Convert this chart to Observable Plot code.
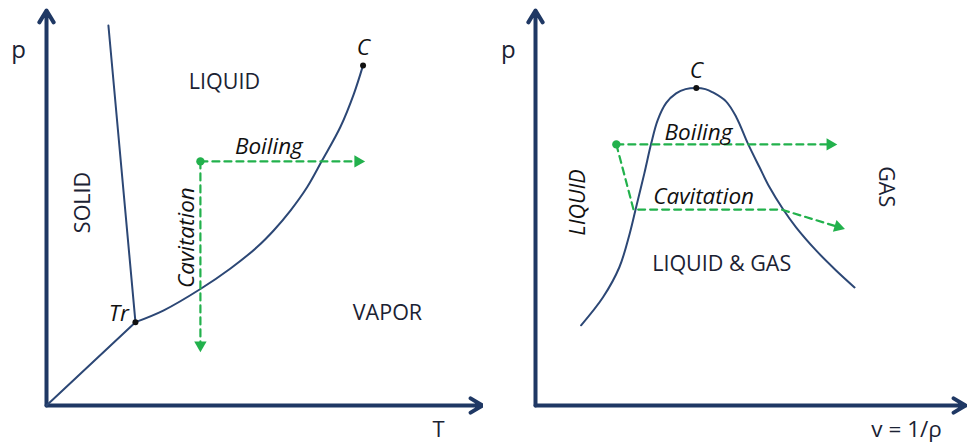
<!DOCTYPE html>
<html><head><meta charset="utf-8">
<script src="https://cdn.jsdelivr.net/npm/d3@7"></script>
<script src="https://cdn.jsdelivr.net/npm/@observablehq/plot@0.6"></script>
<style>
body{margin:0;background:#fff;}
#wrap{display:flex;width:967px;height:443px;overflow:hidden;}
#wrap svg{display:block;background:#fff;}
</style></head><body><div id="wrap"></div>
<script>
// ---------- Left panel: p–T phase diagram (arbitrary units 0–100) ----------
const ptAxes = [{x1:0,y1:0,x2:100,y2:0},{x1:0,y1:0,x2:0,y2:100}];
const sublimation = [{T:0,p:0},{T:20.4,p:21.1}];
const melting = [{T:20.4,p:21.1},{T:14.2,p:96.2}];
const vaporization = [
  {T:20.4,p:21.1},{T:26.9,p:24.1},{T:35.3,p:29.5},{T:42.2,p:34.7},{T:48.3,p:40.1},
  {T:52.1,p:44.3},{T:56.0,p:49.4},{T:59.8,p:55.3},{T:63.2,p:62.0},{T:67.4,p:70.5},
  {T:70.5,p:78.9},{T:72.6,p:86.1}
];
const ptPoints = [{T:20.4,p:21.1,label:"Tr"},{T:72.6,p:86.1,label:"C"}];
const ptStart = {T:35.3,p:61.8};
const ptBoilEnd = {T:72.7,p:61.8};
const ptCavEnd = {T:35.3,p:13.9};
const ptLabels = [
  {T:-6.4,p:89.9,text:"p",style:"normal",rotate:0,size:24,anchor:"middle"},
  {T:89.9,p:-6.1,text:"T",style:"normal",rotate:0,size:22,anchor:"middle"},
  {T:40.8,p:81.8,text:"LIQUID",style:"normal",rotate:0,size:21.5,anchor:"middle"},
  {T:8.3,p:51.4,text:"SOLID",style:"normal",rotate:-90,size:21.5,anchor:"middle"},
  {T:78.2,p:23.5,text:"VAPOR",style:"normal",rotate:0,size:21.5,anchor:"middle"},
  {T:51.0,p:65.6,text:"Boiling",style:"italic",rotate:0,size:22.5,anchor:"middle"},
  {T:32.1,p:42.5,text:"Cavitation",style:"italic",rotate:-90,size:22.5,anchor:"middle"},
  {T:18.9,p:23.3,text:"Tr",style:"italic",rotate:0,size:22.5,anchor:"end"},
  {T:72.7,p:90.6,text:"C",style:"italic",rotate:0,size:22.5,anchor:"middle"}
];

// ---------- Right panel: p–v diagram (arbitrary units 0–100) ----------
const pvAxes = [{x1:0,y1:0,x2:100,y2:0},{x1:0,y1:0,x2:0,y2:100}];
const dome = [
  {v:10.6,p:20.3},{v:15.7,p:27.4},{v:19.5,p:35.0},{v:21.9,p:43.5},{v:23.4,p:50.2},
  {v:25.3,p:58.7},{v:26.9,p:66.3},{v:28.4,p:72.2},{v:30.4,p:76.6},{v:32.7,p:79.0},
  {v:34.9,p:80.1},{v:37.4,p:80.4},{v:39.5,p:80.1},{v:41.2,p:79.3},{v:44.3,p:77.0},
  {v:46.7,p:73.0},{v:49.4,p:66.3},
  {v:52.1,p:60.3},{v:54.4,p:55.3},{v:57.5,p:49.8},{v:60.6,p:45.1},{v:65.3,p:39.2},
  {v:69.9,p:34.2},{v:74.2,p:29.9}
];
const pvCritical = [{v:37.4,p:80.4}];
const pvStart = {v:18.8,p:66.1};
const pvBoilEnd = {v:69.8,p:66.1};
const pvCavPath = [{v:18.8,p:66.1},{v:22.8,p:49.6},{v:57.2,p:49.6}];
const pvCavEnd = {v:71.6,p:44.8};
const pvLabels = [
  {v:-6.3,p:89.9,text:"p",style:"normal",rotate:0,size:24},
  {v:86.3,p:-6.1,text:"v = 1/ρ",style:"normal",rotate:0,size:22.5},
  {v:37.4,p:84.8,text:"C",style:"italic",rotate:0,size:22.5},
  {v:37.9,p:69.1,text:"Boiling",style:"italic",rotate:0,size:22.5},
  {v:39.1,p:52.9,text:"Cavitation",style:"italic",rotate:0,size:22.5},
  {v:10.0,p:51.4,text:"LIQUID",style:"italic",rotate:-90,size:21.5},
  {v:81.4,p:55.4,text:"GAS",style:"normal",rotate:90,size:21.5},
  {v:43.3,p:35.7,text:"LIQUID & GAS",style:"normal",rotate:0,size:21.5}
];

const NAVY = "#1f3864", CURVE = "#2c4775", GREEN = "#22b14c", INK = "#1b2233";
const FONT = "'Open Sans', sans-serif";

// arrowhead helper: from the last segment, returns triangle centroid + rotation
function head(from, to, sx, sy, back = 5.5) {
  const x0 = sx(from[0]), y0 = sy(from[1]), x1 = sx(to[0]), y1 = sy(to[1]);
  const L = Math.hypot(x1 - x0, y1 - y0), ux = (x1 - x0) / L, uy = (y1 - y0) / L;
  return {x: sx.invert(x1 - ux * back), y: sy.invert(y1 - uy * back),
          rotate: Math.atan2(ux, -uy) * 180 / Math.PI};
}

function build(cfg) {
  const groups = d3.groups(cfg.labels, d => d.style + "|" + (d.anchor || "middle") + "|" + d.size);
  const mt = 10, mb = 38, height = 443;
  const sx = d3.scaleLinear([0, 100], [cfg.ml, cfg.width - cfg.mr]);
  const sy = d3.scaleLinear([0, 100], [height - mb, mt]);
  const xk = cfg.xk;
  const heads = cfg.dashed.map(d => {
    const n = d.length;
    return head([d[n-2][xk], d[n-2].p], [d[n-1][xk], d[n-1].p], sx, sy);
  });
  const dashedLines = cfg.dashed.map((d, i) => {
    const pts = d.slice(0, -1).map(e => ({x: e[xk], y: e.p}));
    pts.push({x: heads[i].x, y: heads[i].y});
    return pts;
  });
  return Plot.plot({
    width: cfg.width, height, marginLeft: cfg.ml, marginRight: cfg.mr, marginTop: mt, marginBottom: mb,
    x: {domain: [0, 100], axis: null}, y: {domain: [0, 100], axis: null},
    style: {background: "#fff", fontFamily: FONT, overflow: "visible"},
    marks: [
      Plot.arrow(cfg.axes, {x1: "x1", y1: "y1", x2: "x2", y2: "y2", stroke: NAVY,
        strokeWidth: 4, headLength: 5.2, headAngle: 62}),
      ...cfg.curves.map(c => Plot.line(c.data, {x: xk, y: "p", stroke: CURVE, strokeWidth: 2,
        curve: c.curve})),
      ...dashedLines.map(l => Plot.line(l, {x: "x", y: "y", stroke: GREEN, strokeWidth: 2.2,
        strokeDasharray: "7,5"})),
      Plot.dot(heads, {x: "x", y: "y", rotate: "rotate", symbol: "triangle", r: 4.6,
        fill: GREEN, stroke: "none"}),
      Plot.dot([cfg.start], {x: xk, y: "p", r: 4.2, fill: GREEN}),
      Plot.dot(cfg.points, {x: xk, y: "p", r: 3, fill: "#111"}),
      ...groups.map(([key, rows]) => {
        const [style, anchor, size] = key.split("|");
        return Plot.text(rows, {x: xk, y: "p", text: "text", rotate: "rotate",
          fontStyle: style, fontSize: +size, fill: style === "italic" ? "#111" : INK,
          textAnchor: anchor, fontFamily: FONT});
      })
    ]
  });
}

const wrap = document.getElementById("wrap");
wrap.append(build({
  width: 483, ml: 46, mr: 1, xk: "T",
  axes: ptAxes,
  curves: [{data: sublimation, curve: "linear"}, {data: melting, curve: "linear"},
           {data: vaporization, curve: "catmull-rom"}],
  points: ptPoints, start: ptStart,
  dashed: [[ptStart, ptBoilEnd], [ptStart, ptCavEnd]],
  labels: ptLabels
}));
wrap.append(build({
  width: 484, ml: 52, mr: 2, xk: "v",
  axes: pvAxes,
  curves: [{data: dome, curve: "catmull-rom"}],
  points: pvCritical, start: pvStart,
  dashed: [[pvStart, pvBoilEnd], [...pvCavPath, pvCavEnd]],
  labels: pvLabels
}));
</script></body></html>
